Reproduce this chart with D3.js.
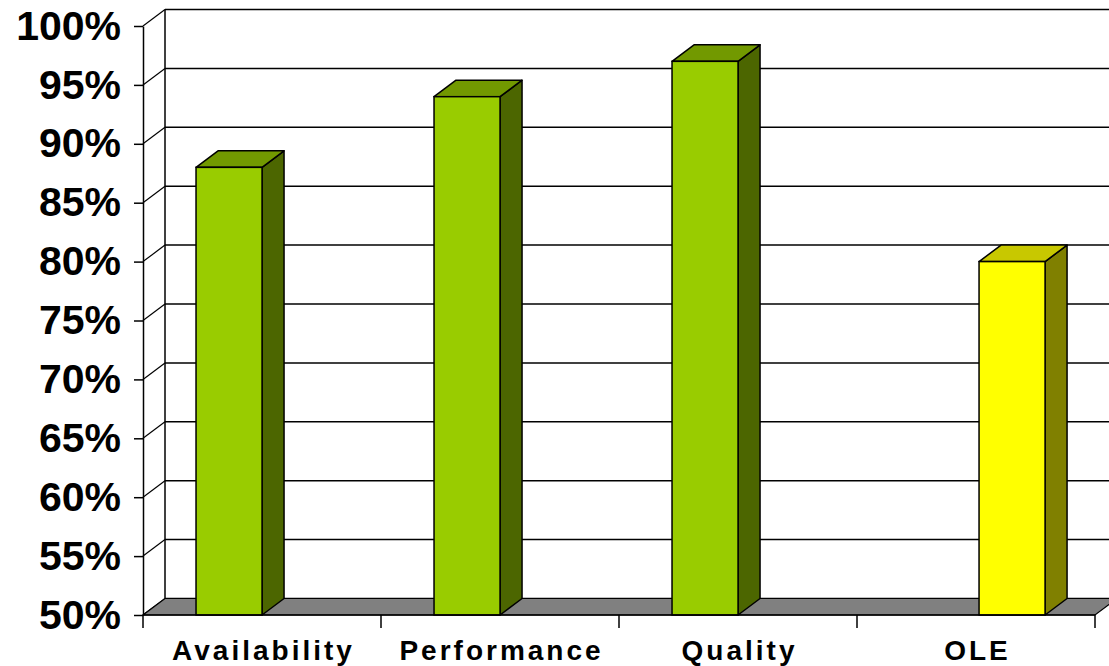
<!DOCTYPE html>
<html><head><meta charset="utf-8">
<script src="https://cdn.jsdelivr.net/npm/d3@7"></script>
<style>html,body{margin:0;padding:0;background:#fff;}svg{display:block;}</style>
</head><body>
<svg id="chart" width="1109" height="666"></svg>
<script>
const categories = ["Availability", "Performance", "Quality", "OLE"];
const seriesNames = ["Factors", "OLE"];
const factorValues = [88, 94, 97, null];
const oleValues = [null, null, null, 80];
const yTicks = [50, 55, 60, 65, 70, 75, 80, 85, 90, 95, 100];

const plotLeft = 143, plotRight = 1095, plotBottom = 615, plotTop = 26;
const dx = 22, dy = -16.5;
const svg = d3.select("#chart");

const y = d3.scaleLinear().domain([50, 100]).range([plotBottom, plotTop]);
const x = d3.scaleBand().domain(categories).range([plotLeft, plotRight]);
const xs = d3.scaleBand().domain(seriesNames).range([0, x.bandwidth()])
  .paddingInner(0.0435).paddingOuter(0.746).align(0.515);

const colors = {
  Factors: {front: "#99CC00", top: "#729900", side: "#4C6600"},
  OLE: {front: "#FFFF00", top: "#C8C800", side: "#808000"}
};

// back wall gridlines
svg.append("g").selectAll("line").data(yTicks).join("line")
  .attr("x1", plotLeft + dx).attr("x2", plotRight + dx + 30)
  .attr("y1", d => y(d) + dy).attr("y2", d => y(d) + dy)
  .attr("stroke", "#000").attr("stroke-width", 1.5);
// back wall left edge
svg.append("line").attr("x1", plotLeft + dx).attr("x2", plotLeft + dx)
  .attr("y1", y(100) + dy).attr("y2", y(50) + dy).attr("stroke", "#000").attr("stroke-width", 1.5);
// side wall diagonals
svg.append("g").selectAll("line").data(yTicks).join("line")
  .attr("x1", plotLeft).attr("x2", plotLeft + dx)
  .attr("y1", d => y(d)).attr("y2", d => y(d) + dy)
  .attr("stroke", "#000").attr("stroke-width", 1.2);

// floor
const y0 = y(50);
svg.append("path")
  .attr("d", `M${plotLeft},${y0}L${plotRight},${y0}L${plotRight + dx},${y0 + dy}L${plotLeft + dx},${y0 + dy}Z`)
  .attr("fill", "#808080").attr("stroke", "#000").attr("stroke-width", 1.2);

// bars
const bars = [];
categories.forEach((c, i) => {
  if (factorValues[i] != null) bars.push({cat: c, s: "Factors", v: factorValues[i]});
  if (oleValues[i] != null) bars.push({cat: c, s: "OLE", v: oleValues[i]});
});
const bg = svg.append("g").selectAll("g").data(bars).join("g");
bg.each(function(d) {
  const g = d3.select(this);
  const x0 = x(d.cat) + xs(d.s), x1 = x0 + xs.bandwidth();
  const yt = y(d.v);
  const col = colors[d.s];
  g.append("path")
    .attr("d", `M${x1},${y0}L${x1 + dx},${y0 + dy}L${x1 + dx},${yt + dy}L${x1},${yt}Z`)
    .attr("fill", col.side).attr("stroke", "#000").attr("stroke-width", 1.5).attr("stroke-linejoin", "round");
  g.append("path")
    .attr("d", `M${x0},${yt}L${x0 + dx},${yt + dy}L${x1 + dx},${yt + dy}L${x1},${yt}Z`)
    .attr("fill", col.top).attr("stroke", "#000").attr("stroke-width", 1.5).attr("stroke-linejoin", "round");
  g.append("rect")
    .attr("x", x0).attr("y", yt).attr("width", x1 - x0).attr("height", y0 - yt)
    .attr("fill", col.front).attr("stroke", "#000").attr("stroke-width", 1.5);
});

// y axis
const ya = svg.append("g").attr("transform", `translate(${plotLeft},0)`)
  .call(d3.axisLeft(y).tickValues(yTicks).tickFormat(d => d + "%").tickSize(9).tickSizeOuter(0).tickPadding(13));
ya.selectAll("path,line").attr("stroke", "#000").attr("stroke-width", 1.5);
ya.selectAll("text").attr("font-family", "'Liberation Sans', Arial, sans-serif")
  .attr("font-weight", "bold").attr("font-size", 41).attr("fill", "#000");

// x axis
svg.append("line").attr("x1", plotLeft).attr("x2", plotRight).attr("y1", y0).attr("y2", y0)
  .attr("stroke", "#000").attr("stroke-width", 1.5);
const xtick = categories.map(c => x(c)).concat([plotRight]);
svg.append("g").selectAll("line").data(xtick).join("line")
  .attr("x1", d => d).attr("x2", d => d).attr("y1", y0).attr("y2", y0 + 13)
  .attr("stroke", "#000").attr("stroke-width", 1.5);
const xa = svg.append("g").attr("transform", `translate(0,${y0})`)
  .call(d3.axisBottom(x).tickSize(0).tickPadding(25));
xa.select(".domain").remove();
xa.selectAll("text").attr("font-family", "'Liberation Sans', Arial, sans-serif")
  .attr("font-weight", "bold").attr("font-size", 28).attr("letter-spacing", "3px")
  .attr("dx", "1.5px").attr("fill", "#000");
</script>
</body></html>
